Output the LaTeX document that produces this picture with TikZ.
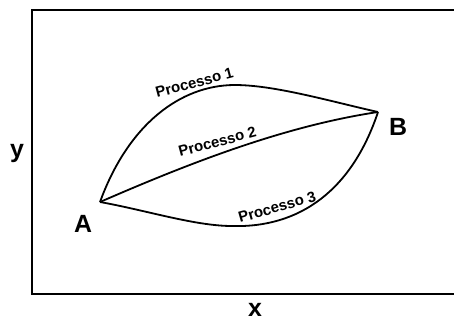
\documentclass[tikz,border=0pt]{standalone}
\usepackage{fontspec}
\setmainfont{Liberation Sans}
\begin{document}
\begin{tikzpicture}[x=1bp,y=-1bp,
  curve/.style={line width=1.8bp,black},
  lbl/.style={font=\bfseries\fontsize{15}{15}\selectfont,inner sep=0pt,anchor=base west},
  big/.style={font=\bfseries\fontsize{25}{25}\selectfont,inner sep=0pt}]
\useasboundingbox (0,0) rectangle (454,320);
\draw[line width=2bp] (460,10) -- (32,10) -- (32,294) -- (460,294);
\coordinate (A) at (100,202);
\coordinate (B) at (378,112);
\coordinate (P1) at (235,85);
\coordinate (P3) at (232,226);
\draw[curve,line join=miter] (A) .. controls (128,125) and (180,85) .. (P1)
  .. controls (275,85) and (333,102) .. (B);
\draw[curve] (A) .. controls (192,162) and (285,126) .. (B);
\draw[curve] (A) .. controls (145,210) and (195,226) .. (P3)
  .. controls (300,228) and (352,190) .. (B);
\node[lbl,rotate=15] (l1) at (157,98) {Processo 1};
\node[lbl,rotate=15] (l2) at (180,157) {Processo 2};
\node[lbl,rotate=16] (l3) at (240,223) {Processo 3};
\node[big] (la) at (83,224) {A};
\node[big] (lb) at (398,127) {B};
\node[big] (ly) at (17,153) {y};
\node[big] (lx) at (255,310) {x};
\end{tikzpicture}
\end{document}
